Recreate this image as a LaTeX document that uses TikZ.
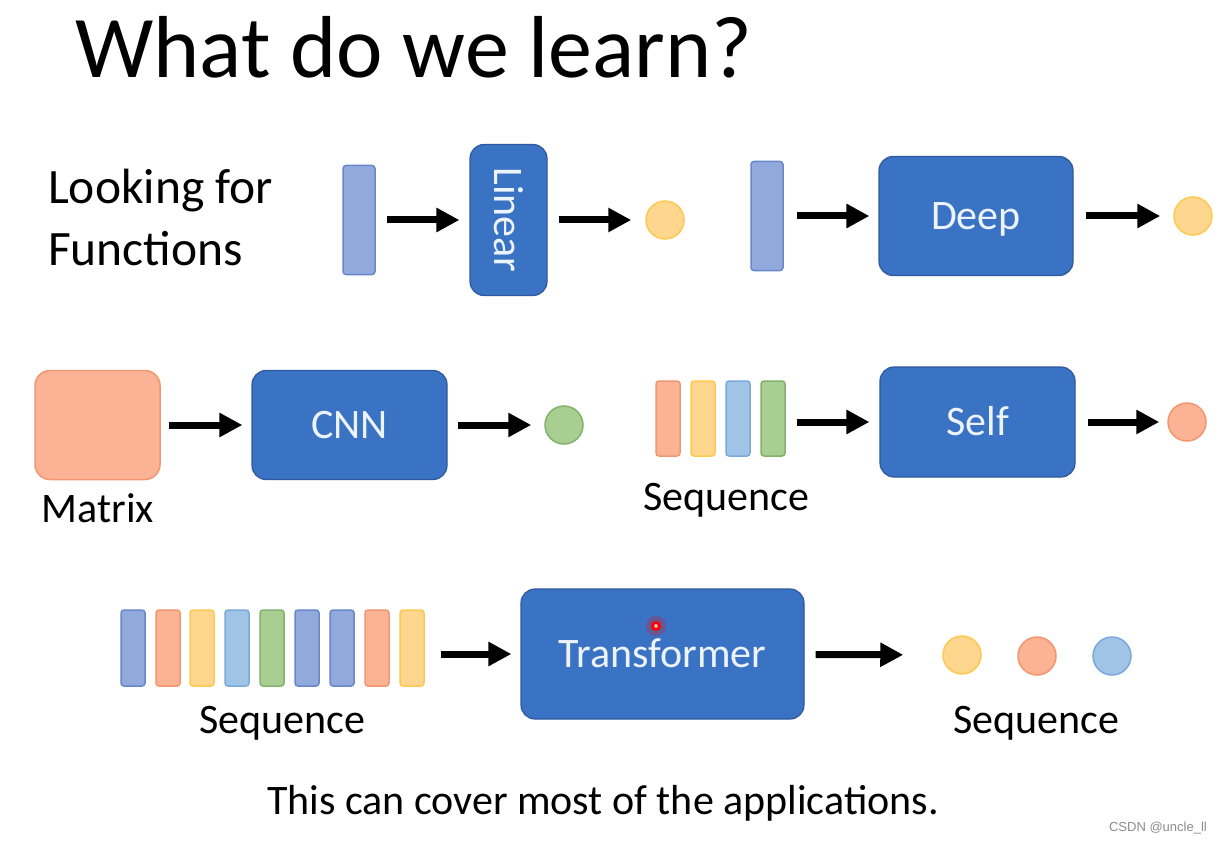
\documentclass[tikz,border=0pt]{standalone}
\usepackage{fontspec}
\setmainfont{Carlito}
\newfontfamily\markfont{Liberation Sans}
\usetikzlibrary{arrows.meta}
\definecolor{boxblue}{RGB}{58,114,196}
\definecolor{boxedge}{RGB}{47,88,158}
\definecolor{boxtext}{RGB}{236,243,251}
\definecolor{bluefill}{RGB}{146,170,219}
\definecolor{blueedge}{RGB}{104,134,203}
\definecolor{orgfill}{RGB}{252,178,148}
\definecolor{orgedge}{RGB}{241,152,112}
\definecolor{yelfill}{RGB}{255,214,142}
\definecolor{yeledge}{RGB}{255,200,82}
\definecolor{skyfill}{RGB}{160,196,230}
\definecolor{skyedge}{RGB}{122,170,220}
\definecolor{grnfill}{RGB}{168,206,146}
\definecolor{grnedge}{RGB}{130,178,108}

\begin{document}
\begin{tikzpicture}[x=1pt,y=-1pt,
  txt/.style={inner sep=0,font=\fontsize{42}{50}\selectfont},
  blk/.style={draw=boxedge,fill=boxblue,line width=1.2pt,rounded corners=14pt,text=boxtext,inner sep=0,text height=27pt,text depth=0pt,font=\fontsize{42}{50}\selectfont},
  bar/.style={rounded corners=3pt,line width=1.5pt,inner sep=0,minimum width=24pt,minimum height=75pt},
  dot/.style={circle,line width=1.5pt,inner sep=0,minimum size=38pt},
  cblu/.style={draw=blueedge,fill=bluefill},
  corg/.style={draw=orgedge,fill=orgfill},
  cyel/.style={draw=yeledge,fill=yelfill},
  csky/.style={draw=skyedge,fill=skyfill},
  cgrn/.style={draw=grnedge,fill=grnfill},
  arr/.style={line width=7pt,-{Triangle[length=23pt,width=23pt]},shorten <=11pt,shorten >=10pt}]
\fill[white] (0,0) rectangle (1222,842);
\useasboundingbox (0,0) rectangle (1222,842);
\node[inner sep=0,anchor=base west,font=\fontsize{88}{96}\selectfont] (title) at (75,78) {What do we learn?};
\node[inner sep=0,anchor=base west,font=\fontsize{49.5}{61}\selectfont] (look) at (48,204) {Looking for};
\node[inner sep=0,anchor=base west,font=\fontsize{49.5}{61}\selectfont] (func) at (48,265) {Functions};
\node[bar,cblu,minimum width=32pt,minimum height=109pt] (vec1) at (359,220) {};
\node[blk,minimum width=77pt,minimum height=151pt] (lin) at (508.5,220) {};
\node[text=boxtext,inner sep=0,rotate=-90,font=\fontsize{42}{50}\selectfont] (linlbl) at (lin.center) {Linear};
\node[dot,cyel] (out1) at (665,220) {};
\draw[arr] (vec1) -- (lin);
\draw[arr,shorten >=14pt] (lin) -- (out1);
\node[bar,cblu,minimum width=32pt,minimum height=109pt] (vec2) at (767,216) {};
\node[blk,minimum width=194pt,minimum height=119pt] (deep) at (976,216) {Deep};
\node[dot,cyel] (out2) at (1193,216) {};
\draw[arr,shorten <=13pt,shorten >=9pt] (vec2) -- (deep);
\draw[arr,shorten <=12pt,shorten >=13pt] (deep) -- (out2);
\node[draw=orgedge,fill=orgfill,line width=1.5pt,rounded corners=15pt,minimum width=125pt,minimum height=109pt] (mat) at (97.5,425) {};
\node[txt,anchor=base] (matlbl) at (98,522) {Matrix};
\node[blk,minimum width=195pt,minimum height=109pt] (cnn) at (349.5,425) {CNN};
\node[dot,cgrn] (out3) at (564,425) {};
\draw[arr,shorten <=8pt,shorten >=9pt] (mat) -- (cnn);
\draw[arr,shorten <=10pt,shorten >=13pt] (cnn) -- (out3);
\node[bar,corg] (q1) at (668,418.5) {};
\node[bar,cyel] (q2) at (703,418.5) {};
\node[bar,csky] (q3) at (738,418.5) {};
\node[bar,cgrn] (q4) at (773,418.5) {};
\node[txt,anchor=base] (qlbl) at (726,510) {Sequence};
\node[blk,minimum width=195pt,minimum height=110pt] (self) at (977.5,422) {Self};
\node[dot,corg] (out4) at (1187,422) {};
\draw[arr] (q4.east |- self.west) -- (self.west);
\draw[arr,shorten <=12pt,shorten >=8pt] (self) -- (out4);
\node[bar,cblu,minimum height=76pt] (s1) at (133,648) {};
\node[bar,corg,minimum height=76pt] (s2) at (168,648) {};
\node[bar,cyel,minimum height=76pt] (s3) at (202,648) {};
\node[bar,csky,minimum height=76pt] (s4) at (237,648) {};
\node[bar,cgrn,minimum height=76pt] (s5) at (272,648) {};
\node[bar,cblu,minimum height=76pt] (s6) at (307,648) {};
\node[bar,cblu,minimum height=76pt] (s7) at (342,648) {};
\node[bar,corg,minimum height=76pt] (s8) at (377,648) {};
\node[bar,cyel,minimum height=76pt] (s9) at (412,648) {};
\node[txt,anchor=base] (slbl) at (282,733) {Sequence};
\node[blk,minimum width=283pt,minimum height=130pt] (tr) at (662.5,654) {Transformer};
\node[dot,cyel] (o1) at (962,655) {};
\node[dot,corg] (o2) at (1037,656) {};
\node[dot,csky] (o3) at (1112,656) {};
\node[txt,anchor=base] (olbl) at (1036,733) {Sequence};
\draw[arr,shorten <=16pt,shorten >=9pt] (s9.east |- tr.west) -- (tr.west);
\draw[arr,shorten <=11pt,shorten >=39pt] (tr) -- (o1);
\fill[red,opacity=0.25] (656,626) circle (10);
\fill[red] (656,626) circle (5);
\fill[red!35!white] (656,626) circle (2);
\node[txt,anchor=base] (foot) at (603,814) {This can cover most of the applications.};
\node[inner sep=0,anchor=base east,text=black!45,font=\markfont\fontsize{13}{15}\selectfont] (mark) at (1207,831) {CSDN @uncle\_ll};
\end{tikzpicture}
\end{document}
